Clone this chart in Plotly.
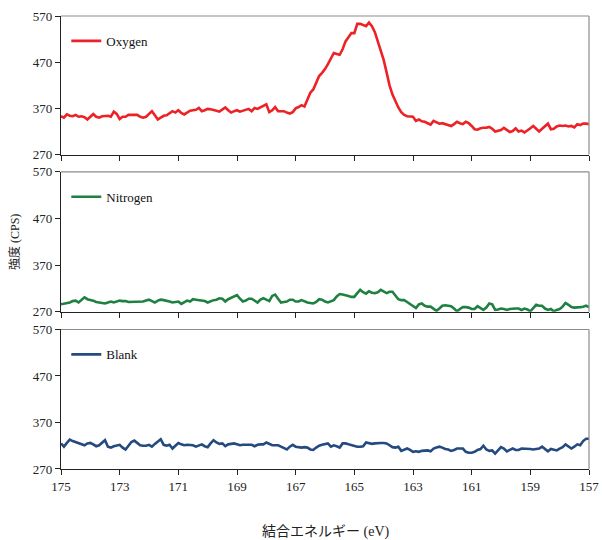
import plotly.graph_objects as go

# Binding energy grid (eV), 0.1 eV steps from 175 down to 157
energy = [round(175 - 0.1 * i, 1) for i in range(181)]

oxygen = [
    353, 350, 357, 354, 353, 356, 352, 353, 351, 346,
    352, 358, 352, 350, 353, 354, 354, 352, 363, 358,
    347, 352, 352, 356, 356, 357, 356, 352, 350, 352,
    358, 364, 355, 346, 350, 354, 355, 360, 364, 361,
    366, 360, 357, 361, 365, 366, 367, 371, 364, 366,
    369, 368, 367, 365, 363, 367, 372, 366, 361, 364,
    366, 363, 365, 367, 369, 364, 371, 369, 372, 375,
    379, 362, 366, 373, 364, 364, 364, 361, 359, 362,
    370, 373, 377, 374, 390, 404, 411, 425, 440, 447,
    455, 466, 478, 490, 488, 486, 498, 515, 524, 533,
    533, 553, 553, 550, 548, 556, 548, 535, 515, 498,
    475, 448, 420, 400, 386, 372, 362, 356, 353, 353,
    352, 343, 346, 342, 341, 338, 335, 343, 340, 337,
    338, 336, 334, 332, 336, 341, 338, 336, 341, 338,
    332, 325, 324, 327, 328, 328, 330, 326, 320, 321,
    323, 328, 324, 319, 321, 327, 320, 322, 318, 322,
    327, 332, 327, 320, 326, 332, 337, 325, 326, 331,
    333, 332, 333, 331, 332, 329, 336, 334, 337, 337,
    336,
]

nitrogen = [
    286, 287, 288, 290, 293, 294, 290, 296, 301, 297,
    296, 294, 291, 290, 289, 288, 290, 292, 290, 292,
    294, 293, 293, 291, 291, 292, 292, 291, 292, 294,
    296, 293, 290, 294, 296, 295, 294, 292, 290, 291,
    292, 287, 290, 294, 292, 297, 296, 295, 295, 293,
    290, 293, 295, 296, 299, 298, 292, 297, 300, 303,
    306, 298, 292, 294, 298, 298, 294, 290, 296, 299,
    296, 293, 304, 307, 298, 290, 291, 292, 296, 296,
    292, 292, 295, 292, 290, 289, 288, 291, 297, 296,
    292, 290, 292, 295, 303, 308, 307, 306, 304, 302,
    302, 310, 317, 312, 309, 314, 311, 310, 312, 317,
    314, 310, 313, 313, 305, 297, 295, 295, 291, 286,
    282, 278, 286, 288, 283, 281, 281, 277, 272, 277,
    283, 284, 283, 282, 277, 271, 276, 280, 280, 279,
    276, 276, 282, 277, 274, 279, 288, 286, 274, 275,
    277, 276, 274, 276, 277, 277, 277, 274, 277, 275,
    271, 278, 285, 283, 283, 277, 274, 276, 271, 274,
    276, 281, 289, 285, 280, 279, 279, 280, 281, 283,
    280,
]

blank = [
    325, 318, 326, 333, 330, 328, 326, 323, 321, 325,
    326, 323, 319, 321, 327, 332, 318, 316, 319, 321,
    322, 316, 312, 320, 328, 331, 325, 321, 320, 320,
    322, 318, 324, 330, 334, 322, 320, 322, 314, 320,
    326, 323, 321, 322, 322, 321, 318, 320, 323, 319,
    317, 325, 332, 327, 324, 325, 319, 323, 324, 325,
    323, 321, 322, 322, 323, 322, 319, 322, 323, 323,
    327, 324, 321, 321, 321, 318, 315, 312, 318, 322,
    318, 317, 316, 317, 316, 312, 311, 316, 320, 322,
    324, 325, 318, 321, 319, 316, 325, 325, 323, 321,
    319, 318, 318, 319, 327, 326, 324, 325, 326, 326,
    326, 325, 321, 317, 316, 318, 309, 311, 314, 311,
    307, 308, 307, 309, 310, 310, 308, 314, 316, 318,
    316, 313, 312, 309, 311, 314, 314, 314, 307, 305,
    305, 307, 311, 313, 320, 312, 309, 310, 303, 311,
    317, 314, 308, 311, 314, 311, 311, 314, 314, 314,
    313, 312, 313, 314, 318, 312, 308, 313, 312, 310,
    314, 317, 323, 319, 314, 318, 323, 321, 330, 335,
    335,
]

series_names = ["Oxygen", "Nitrogen", "Blank"]
series_values = [oxygen, nitrogen, blank]
series_colors = ["#EC2227", "#1F8141", "#244A80"]

y_ticks = [270, 370, 470, 570]
x_ticks = [175, 173, 171, 169, 167, 165, 163, 161, 159, 157]

SERIF = "Liberation Serif, Times New Roman, Noto Sans CJK JP, serif"

domains = [[0.694, 1.0], [0.347, 0.656], [0.0, 0.308]]
legend_ids = ["legend", "legend2", "legend3"]

fig = go.Figure()

for i, (name, vals, col) in enumerate(zip(series_names, series_values, series_colors)):
    n = i + 1
    xa = "x" if n == 1 else f"x{n}"
    ya = "y" if n == 1 else f"y{n}"
    fig.add_trace(go.Scatter(
        x=energy, y=vals, mode="lines", name=name,
        line=dict(color=col, width=2.6),
        xaxis=xa, yaxis=ya, legend=legend_ids[i],
    ))

layout = dict(
    width=602, height=540,
    margin=dict(l=61, r=13, t=16, b=71, autoexpand=False),
    paper_bgcolor="white", plot_bgcolor="white",
    showlegend=True,
    font=dict(family=SERIF, size=13, color="#222222"),
)

for i in range(3):
    n = i + 1
    xkey = "xaxis" if n == 1 else f"xaxis{n}"
    ykey = "yaxis" if n == 1 else f"yaxis{n}"
    xref = "x" if n == 1 else f"x{n}"
    yref = "y" if n == 1 else f"y{n}"
    layout[xkey] = dict(
        domain=[0, 1], anchor=yref, automargin=False,
        range=[175, 157], tickmode="array", tickvals=x_ticks,
        ticktext=[str(t) for t in x_ticks],
        showticklabels=(n == 3),
        showgrid=False, zeroline=False,
        showline=True, linecolor="#222222", linewidth=1.2,
        ticks="outside", ticklen=5, tickcolor="#222222",
        tickfont=dict(family=SERIF, size=13, color="#222222"),
    )
    if n != 1:
        layout[xkey]["matches"] = "x"
    layout[ykey] = dict(
        domain=domains[i], anchor=xref, automargin=False,
        range=[270, 570], tickmode="array", tickvals=y_ticks,
        showgrid=False, zeroline=False,
        showline=True, linecolor="#222222", linewidth=1.2,
        ticks="outside", ticklen=5, tickcolor="#222222",
        tickfont=dict(family=SERIF, size=13, color="#222222"),
    )
    lg = legend_ids[i]
    layout[lg] = dict(
        x=0.01, xanchor="left",
        y=domains[i][1] - 0.055, yanchor="middle",
        bgcolor="rgba(0,0,0,0)",
        font=dict(family=SERIF, size=13, color="#111111"),
    )

fig.update_layout(**layout)

shapes = []
for i in range(3):
    n = i + 1
    xr = "x domain" if n == 1 else f"x{n} domain"
    yr = "y domain" if n == 1 else f"y{n} domain"
    shapes.append(dict(type="line", xref=xr, yref=yr, x0=0, x1=1, y0=1, y1=1,
                       line=dict(color="#8c8c8c", width=1.2)))
    shapes.append(dict(type="line", xref=xr, yref=yr, x0=1, x1=1, y0=0, y1=1,
                       line=dict(color="#8c8c8c", width=1.2)))
fig.update_layout(shapes=shapes)

fig.add_annotation(
    text="結合エネルギー (eV)", xref="paper", yref="paper",
    x=0.5, y=-0.14, xanchor="center", yanchor="middle", showarrow=False,
    font=dict(family=SERIF, size=14, color="#222222"),
)
fig.add_annotation(
    text="強度 (CPS)", xref="paper", yref="paper",
    x=-0.088, y=0.5, xanchor="center", yanchor="middle", showarrow=False,
    textangle=-90,
    font=dict(family=SERIF, size=12, color="#222222"),
)

fig.write_html(
    "out.html",
    config={"displayModeBar": False},
    post_script="document.body.style.margin='0';document.body.style.overflow='hidden';",
)
